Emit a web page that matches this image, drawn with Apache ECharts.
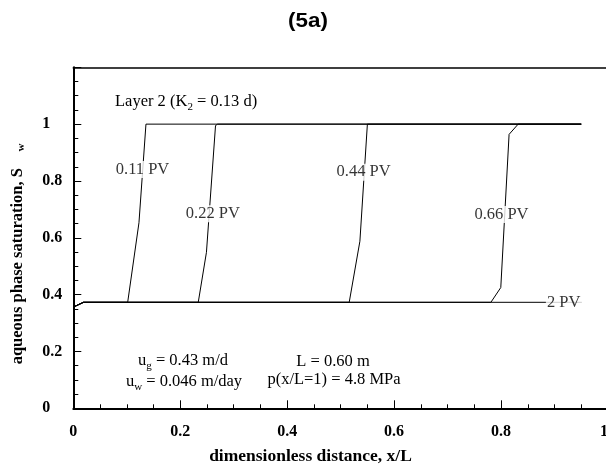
<!DOCTYPE html>
<html><head><meta charset="utf-8">
<script src="https://cdn.jsdelivr.net/npm/echarts@6/dist/echarts.min.js"></script>
<style>html,body{margin:0;padding:0;background:#fff}#c{width:606px;height:468px}</style>
</head><body><div id="c"></div>
<script>
// data
var xTicks = [0, 0.2, 0.4, 0.6, 0.8, 1];
var yTicks = [0, 0.2, 0.4, 0.6, 0.8, 1];
var pv011X = [0, 0.019, 0.1017, 0.1228, 0.1359, 0.95];
var pv011Y = [0.356, 0.373, 0.373, 0.653, 1.0, 1.0];
var pv022X = [0, 0.019, 0.2337, 0.249, 0.266, 0.27, 0.95];
var pv022Y = [0.356, 0.373, 0.373, 0.549, 0.995, 1.0, 1.0];
var pv044X = [0, 0.019, 0.516, 0.536, 0.550, 0.95];
var pv044Y = [0.356, 0.373, 0.373, 0.588, 1.0, 1.0];
var pv066X = [0, 0.019, 0.781, 0.7995, 0.815, 0.832, 0.95];
var pv066Y = [0.356, 0.373, 0.373, 0.425, 0.964, 1.0, 1.0];
var pv2X = [0, 0.019, 0.95];
var pv2Y = [0.356, 0.373, 0.373];
var labelNames = ['0.11 PV', '0.22 PV', '0.44 PV', '0.66 PV', '2 PV'];
var labelX = [0.1295, 0.261, 0.543, 0.8007, 0.917];
var labelY = [0.84, 0.685, 0.831, 0.682, 0.373];

function zip(xs, ys) { return xs.map(function (x, i) { return [x, ys[i]]; }); }
var serif = '"Liberation Serif", "Times New Roman", serif';
var annSize = 16.5;

function lineSeries(name, xs, ys) {
  return {
    name: name, type: 'line', data: zip(xs, ys), symbol: 'none',
    lineStyle: { color: '#000', width: 1 }, z: 2, animation: false
  };
}
function subStyle() {
  return { a: { fontFamily: serif, fontSize: annSize, fill: '#000' },
           s: { fontFamily: serif, fontSize: 11, fill: '#000', padding: [10, 0, 0, 0] } };
}

var chart = echarts.init(document.getElementById('c'), null, { renderer: 'canvas' });
var option = {
  animation: false,
  grid: { left: 73.3, top: 67.3, right: -2, bottom: 59.7, containLabel: false, outerBoundsMode: 'none' },
  xAxis: [{
    type: 'value', min: 0, max: 1, interval: 0.2,
    axisLine: { lineStyle: { color: '#000', width: 2 } },
    axisTick: { inside: true, length: 8, lineStyle: { color: '#000', width: 1 } },
    minorTick: { show: true, splitNumber: 4, length: 4, lineStyle: { color: '#000', width: 1 } },
    splitLine: { show: false },
    axisLabel: { margin: 16, fontFamily: serif, fontWeight: 'bold', fontSize: 16, color: '#000', alignMaxLabel: 'right',
      formatter: function (v) { var r = +v.toFixed(2); return xTicks.indexOf(r) >= 0 ? String(r) : ''; } }
  }, {
    type: 'value', min: 0, max: 1, position: 'top',
    axisLine: { show: true, lineStyle: { color: '#000', width: 1.5 } },
    axisTick: { show: false }, axisLabel: { show: false }, splitLine: { show: false }
  }],
  yAxis: {
    type: 'value', min: 0, max: 1.2, interval: 0.2,
    axisLine: { lineStyle: { color: '#000', width: 2 } },
    axisTick: { inside: true, length: 8, lineStyle: { color: '#000', width: 1 } },
    minorTick: { show: true, splitNumber: 4, length: 5, lineStyle: { color: '#000', width: 1 } },
    splitLine: { show: false },
    axisLabel: { margin: 31, align: 'left', fontFamily: serif, fontWeight: 'bold', fontSize: 16, color: '#000',
      formatter: function (v) { var r = +v.toFixed(2); return yTicks.indexOf(r) >= 0 ? String(r) : ''; } }
  },
  series: [
    lineSeries('0.11 PV', pv011X, pv011Y),
    lineSeries('0.22 PV', pv022X, pv022Y),
    lineSeries('0.44 PV', pv044X, pv044Y),
    lineSeries('0.66 PV', pv066X, pv066Y),
    lineSeries('2 PV', pv2X, pv2Y),
    {
      type: 'scatter', symbolSize: 0, z: 5, silent: true,
      data: labelNames.map(function (n, i) { return [labelX[i], labelY[i], n]; }),
      label: {
        show: true, position: 'inside', color: '#000', fontFamily: serif, fontSize: annSize,
        textBorderWidth: 0, backgroundColor: '#fff', padding: [0, 1],
        formatter: function (p) { return p.value[2]; }
      }
    }
  ],
  graphic: [
    { type: 'text', x: 308, y: 21, scaleX: 1.12, originX: 0, style: { text: '(5a)', font: 'bold 20px "Liberation Sans", Arial, sans-serif', fill: '#000', align: 'center', verticalAlign: 'middle' } },
    { type: 'text', x: 310.5, y: 456, style: { text: 'dimensionless distance, x/L', font: 'bold 17.5px ' + serif, fill: '#000', align: 'center', verticalAlign: 'middle' } },
    { type: 'text', x: 17.5, y: 254, rotation: Math.PI / 2, style: {
        text: '{a|aqueous phase saturation, S}{s|      w}', fill: '#000', align: 'center', verticalAlign: 'middle',
        rich: { a: { fontFamily: serif, fontWeight: 'bold', fontSize: 16.5, fill: '#000' },
                s: { fontFamily: serif, fontWeight: 'bold', fontSize: 11, fill: '#000', padding: [8, 0, 0, 0] } } } },
    { type: 'text', x: 115, y: 101.7, style: { text: '{a|Layer 2 (K}{s|2}{a| = 0.13 d)}', align: 'left', verticalAlign: 'middle', rich: subStyle() } },
    { type: 'text', x: 183, y: 361, style: { text: '{a|u}{s|g}{a| = 0.43 m/d}', align: 'center', verticalAlign: 'middle', rich: subStyle() } },
    { type: 'text', x: 184, y: 382, style: { text: '{a|u}{s|w}{a| = 0.046 m/day}', align: 'center', verticalAlign: 'middle', rich: subStyle() } },
    { type: 'text', x: 333, y: 362, style: { text: 'L = 0.60 m', font: annSize + 'px ' + serif, fill: '#000', align: 'center', verticalAlign: 'middle' } },
    { type: 'text', x: 334, y: 380, style: { text: 'p(x/L=1) = 4.8 MPa', font: annSize + 'px ' + serif, fill: '#000', align: 'center', verticalAlign: 'middle' } }
  ]
};
chart.setOption(option);
</script>
</body></html>
